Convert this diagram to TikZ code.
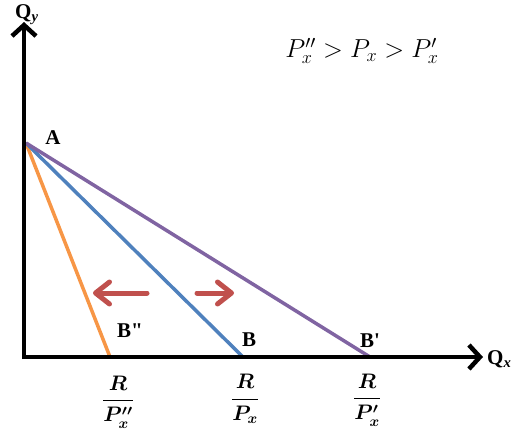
\RequirePackage{fix-cm}
\documentclass[tikz,border=0pt]{standalone}
\usepackage{amsmath,bm}
\usepackage{fontspec}
\setmainfont{Liberation Serif}[Ligatures=TeXOff]
\usetikzlibrary{arrows.meta}
\definecolor{lorange}{HTML}{F79646}
\definecolor{lblue}{HTML}{4F81BD}
\definecolor{lpurple}{HTML}{8064A2}
\definecolor{lred}{HTML}{C0504D}
\begin{document}
\begin{tikzpicture}[x=1pt,y=-1pt,
  axis/.style={line width=4.5pt,black,-{Straight Barb[length=11pt,width=24pt,line width=4.5pt]}},
  budget/.style={line width=3.5pt},
  shiftarrow/.style={line width=5pt,lred,line cap=round,-{Straight Barb[length=14pt,width=22pt,line width=5pt,round]}},
  lab/.style={font=\fontsize{21}{24}\selectfont\bfseries,inner sep=0pt},
  frac/.style={font=\fontsize{21}{24}\selectfont,inner sep=0pt}]
\useasboundingbox (0,0) rectangle (516,437);
\coordinate (O) at (24,357);
\coordinate (ytip) at (24,22);
\coordinate (xtip) at (483,357);
\coordinate (A) at (26,143);
\coordinate (B2) at (110,357);
\coordinate (B) at (243,357);
\coordinate (B1) at (370,357);
\draw[budget,lorange] (A) -- (B2);
\draw[budget,lblue] (A) -- (B);
\draw[budget,lpurple] (A) -- (B1);
\draw[axis] (24,359) -- (ytip);
\draw[axis] (22,357) -- (xtip);
\node[lab,anchor=west] (qy) at (15,15) {Q\textsubscript{\itshape y}};
\node[lab,anchor=west] (qx) at (487,359) {Q\textsubscript{\itshape x}};
\node[lab] (la) at (53,138) {A};
\node[lab] (lb2) at (130,331) {B"};
\node[lab] (lb) at (249,340) {B};
\node[lab] (lb1) at (370,341) {B'};
\node[frac] (f2) at (118,402) {$\bm{\dfrac{R}{P''_x}}$};
\node[frac] (f) at (245,399) {$\bm{\dfrac{R}{P_x}}$};
\node[frac] (f1) at (367,400) {$\bm{\dfrac{R}{P'_x}}$};
\coordinate (l1) at (147,293);
\coordinate (l2) at (93,293);
\coordinate (r1) at (197,293);
\coordinate (r2) at (234,293);
\draw[shiftarrow] (l1) -- (l2);
\draw[shiftarrow] (r1) -- (r2);
\node[font=\fontsize{26}{30}\selectfont,inner sep=0pt] (eq) at (362,51) {$P''_x > P_x > P'_x$};
\end{tikzpicture}
\end{document}
